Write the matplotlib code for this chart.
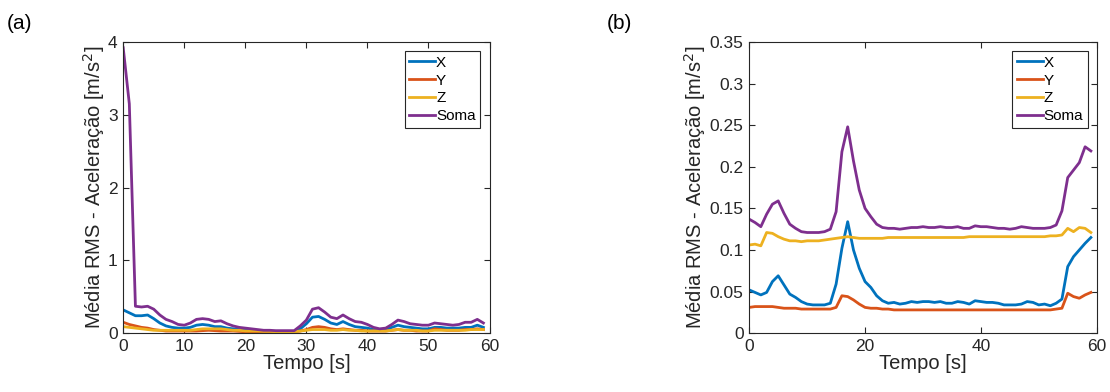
import matplotlib.pyplot as plt
import numpy as np

plt.rcParams['font.family'] = ['Liberation Sans', 'DejaVu Sans']

t = np.arange(60)

# (a)
a_x = [0.32, 0.28, 0.24, 0.24, 0.25, 0.20, 0.14, 0.10, 0.08, 0.07,
       0.07, 0.08, 0.11, 0.12, 0.11, 0.09, 0.09, 0.07, 0.06, 0.05,
       0.04, 0.035, 0.03, 0.03, 0.025, 0.025, 0.025, 0.025, 0.025, 0.06,
       0.13, 0.22, 0.23, 0.19, 0.14, 0.12, 0.16, 0.12, 0.09, 0.08,
       0.07, 0.05, 0.04, 0.05, 0.08, 0.11, 0.09, 0.08, 0.07, 0.06,
       0.06, 0.08, 0.08, 0.07, 0.07, 0.07, 0.08, 0.08, 0.11, 0.08]
a_y = [0.15, 0.12, 0.10, 0.08, 0.07, 0.05, 0.04, 0.03, 0.03, 0.03,
       0.03, 0.03, 0.03, 0.035, 0.04, 0.035, 0.03, 0.03, 0.03, 0.025,
       0.02, 0.02, 0.02, 0.02, 0.02, 0.02, 0.02, 0.02, 0.02, 0.03,
       0.05, 0.08, 0.09, 0.08, 0.06, 0.05, 0.06, 0.05, 0.04, 0.04,
       0.03, 0.03, 0.03, 0.03, 0.04, 0.05, 0.04, 0.04, 0.03, 0.03,
       0.03, 0.06, 0.05, 0.04, 0.04, 0.04, 0.05, 0.05, 0.06, 0.05]
a_z = [0.09, 0.08, 0.07, 0.06, 0.05, 0.04, 0.04, 0.04, 0.04, 0.04,
       0.04, 0.04, 0.05, 0.06, 0.06, 0.06, 0.06, 0.05, 0.04, 0.04,
       0.03, 0.03, 0.03, 0.025, 0.025, 0.02, 0.02, 0.02, 0.02, 0.03,
       0.04, 0.05, 0.05, 0.05, 0.04, 0.04, 0.05, 0.04, 0.04, 0.03,
       0.03, 0.03, 0.03, 0.03, 0.04, 0.05, 0.04, 0.04, 0.04, 0.03,
       0.03, 0.04, 0.04, 0.04, 0.04, 0.04, 0.04, 0.05, 0.05, 0.05]
a_soma = [3.92, 3.15, 0.37, 0.36, 0.37, 0.33, 0.25, 0.19, 0.16, 0.12,
          0.11, 0.14, 0.19, 0.20, 0.19, 0.16, 0.17, 0.13, 0.10, 0.08,
          0.07, 0.06, 0.05, 0.04, 0.04, 0.035, 0.035, 0.035, 0.035, 0.10,
          0.18, 0.33, 0.35, 0.29, 0.22, 0.20, 0.25, 0.20, 0.16, 0.15,
          0.12, 0.08, 0.06, 0.07, 0.12, 0.18, 0.16, 0.13, 0.12, 0.11,
          0.11, 0.14, 0.13, 0.12, 0.11, 0.12, 0.15, 0.15, 0.19, 0.14]

# (b)
b_x = [0.052, 0.049, 0.046, 0.049, 0.062, 0.069, 0.058, 0.047, 0.043, 0.038,
       0.035, 0.034, 0.034, 0.034, 0.036, 0.059, 0.102, 0.134, 0.100, 0.078,
       0.062, 0.055, 0.045, 0.039, 0.036, 0.037, 0.035, 0.036, 0.038, 0.037,
       0.038, 0.038, 0.037, 0.038, 0.036, 0.036, 0.038, 0.037, 0.035, 0.039,
       0.038, 0.037, 0.037, 0.036, 0.034, 0.034, 0.034, 0.035, 0.038, 0.037,
       0.034, 0.035, 0.033, 0.036, 0.041, 0.080, 0.092, 0.100, 0.108, 0.115]
b_y = [0.031, 0.032, 0.032, 0.032, 0.032, 0.031, 0.030, 0.030, 0.030, 0.029,
       0.029, 0.029, 0.029, 0.029, 0.029, 0.031, 0.045, 0.044, 0.040, 0.035,
       0.031, 0.030, 0.030, 0.029, 0.029, 0.028, 0.028, 0.028, 0.028, 0.028,
       0.028, 0.028, 0.028, 0.028, 0.028, 0.028, 0.028, 0.028, 0.028, 0.028,
       0.028, 0.028, 0.028, 0.028, 0.028, 0.028, 0.028, 0.028, 0.028, 0.028,
       0.028, 0.028, 0.028, 0.029, 0.030, 0.048, 0.044, 0.042, 0.046, 0.049]
b_z = [0.106, 0.107, 0.105, 0.121, 0.120, 0.116, 0.113, 0.111, 0.111, 0.110,
       0.111, 0.111, 0.111, 0.112, 0.113, 0.114, 0.115, 0.116, 0.115, 0.114,
       0.114, 0.114, 0.114, 0.114, 0.115, 0.115, 0.115, 0.115, 0.115, 0.115,
       0.115, 0.115, 0.115, 0.115, 0.115, 0.115, 0.115, 0.115, 0.116, 0.116,
       0.116, 0.116, 0.116, 0.116, 0.116, 0.116, 0.116, 0.116, 0.116, 0.116,
       0.116, 0.116, 0.117, 0.117, 0.118, 0.126, 0.122, 0.127, 0.126, 0.121]
b_soma = [0.137, 0.133, 0.128, 0.143, 0.155, 0.159, 0.144, 0.131, 0.126, 0.122,
          0.121, 0.121, 0.121, 0.122, 0.125, 0.146, 0.218, 0.248, 0.207, 0.172,
          0.150, 0.140, 0.131, 0.127, 0.126, 0.126, 0.125, 0.126, 0.127, 0.127,
          0.128, 0.127, 0.127, 0.128, 0.127, 0.127, 0.128, 0.126, 0.126, 0.129,
          0.128, 0.128, 0.127, 0.126, 0.126, 0.125, 0.126, 0.128, 0.127, 0.126,
          0.126, 0.126, 0.127, 0.130, 0.147, 0.187, 0.196, 0.205, 0.224, 0.219]

labels = ['X', 'Y', 'Z', 'Soma']
colors = ['#0072BD', '#D95319', '#EDB120', '#7E2F8E']

fig = plt.figure(figsize=(11.1, 3.92), dpi=100)
ax1 = fig.add_axes([0.111, 0.150, 0.330, 0.743])
ax2 = fig.add_axes([0.675, 0.150, 0.313, 0.743])

panels = [
    (ax1, [a_x, a_y, a_z, a_soma], (0, 4), np.arange(0, 4.1, 1), np.arange(0, 61, 10)),
    (ax2, [b_x, b_y, b_z, b_soma], (0, 0.35), np.arange(0, 0.351, 0.05), np.arange(0, 61, 20)),
]

for ax, series, ylim, yticks, xticks in panels:
    for s, lab, c in zip(series, labels, colors):
        ax.plot(t, s, color=c, lw=2, label=lab)
    ax.set_xlim(0, 60)
    ax.set_ylim(*ylim)
    ax.set_xticks(xticks)
    ax.set_yticks(yticks)
    ax.set_yticklabels(['%g' % round(v, 2) for v in yticks])
    ax.tick_params(direction='in', top=True, right=True, length=4,
                   labelsize=12.5, colors='#262626', pad=4)
    for sp in ax.spines.values():
        sp.set_color('#262626')
        sp.set_linewidth(0.8)
    ax.set_xlabel('Tempo [s]', fontsize=14.5, color='#262626', labelpad=0)
    ax.set_ylabel('Média RMS - Aceleração [m/s$^2$]', fontsize=14.5,
                  color='#262626', labelpad=1)
    leg = ax.legend(loc='upper right', fontsize=11, handlelength=1.7,
                    handletextpad=0.05, labelspacing=0.25, borderpad=0.3,
                    fancybox=False, framealpha=1, borderaxespad=0.6)
    leg.get_frame().set_edgecolor('#262626')
    leg.get_frame().set_linewidth(0.8)

fig.text(0.006, 0.925, '(a)', fontsize=15)
fig.text(0.547, 0.925, '(b)', fontsize=15)

fig.savefig('out.png', dpi=100)
